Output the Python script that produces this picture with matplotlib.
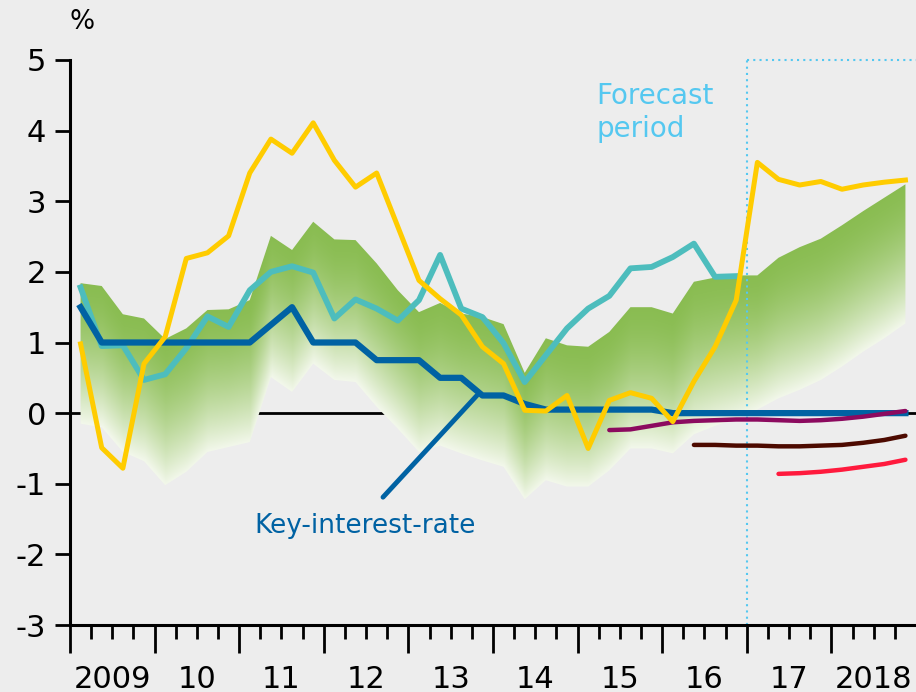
import numpy as np
import matplotlib
matplotlib.use("Agg")
import matplotlib.pyplot as plt
from matplotlib.patches import Polygon
from matplotlib.transforms import blended_transform_factory

plt.rcParams['font.family'] = ['DejaVu Sans']
plt.rcParams['axes.unicode_minus'] = False

# quarterly data, 2009 Q1 .. 2018 Q4 (40 quarters)
n_q = 40
years = list(range(2009, 2019))
year_labels = ['2009', '10', '11', '12', '13', '14', '15', '16', '17', '2018']

yellow = [0.98, -0.49, -0.78, 0.70, 1.08, 2.19, 2.27, 2.51, 3.40, 3.88,
          3.68, 4.11, 3.58, 3.20, 3.40, 2.64, 1.88, 1.62, 1.39, 0.94,
          0.70, 0.04, 0.03, 0.25, -0.50, 0.18, 0.29, 0.21, -0.12, 0.45,
          0.94, 1.60, 3.55, 3.31, 3.23, 3.28, 3.17, 3.23, 3.27, 3.30]

teal = [1.78, 0.95, 0.96, 0.47, 0.55, 0.92, 1.37, 1.22, 1.74, 2.00,
        2.08, 1.99, 1.34, 1.61, 1.48, 1.31, 1.60, 2.24, 1.48, 1.36,
        0.99, 0.44, 0.82, 1.20, 1.48, 1.66, 2.05, 2.07, 2.21, 2.40,
        1.93, 1.94]

key_rate = [1.50, 1.00, 1.00, 1.00, 1.00, 1.00, 1.00, 1.00, 1.00, 1.25,
            1.50, 1.00, 1.00, 1.00, 0.75, 0.75, 0.75, 0.50, 0.50, 0.25,
            0.25, 0.13, 0.05, 0.05, 0.05, 0.05, 0.05, 0.05, 0.00, 0.00,
            0.00, 0.00, 0.00, 0.00, 0.00, 0.00, 0.00, 0.00, 0.00, 0.00]

band_upper = [1.84, 1.80, 1.40, 1.34, 1.05, 1.20, 1.46, 1.47, 1.60, 2.51,
              2.31, 2.71, 2.46, 2.45, 2.12, 1.74, 1.43, 1.56, 1.41, 1.36,
              1.26, 0.57, 1.06, 0.96, 0.94, 1.15, 1.50, 1.50, 1.41, 1.86,
              1.92, 1.95, 1.95, 2.20, 2.35, 2.47, 2.66, 2.86, 3.05, 3.24]

band_lower = [-0.15, -0.20, -0.55, -0.68, -1.02, -0.83, -0.55, -0.48, -0.41, 0.51,
              0.30, 0.70, 0.47, 0.44, 0.09, -0.22, -0.55, -0.46, -0.57, -0.67,
              -0.76, -1.22, -0.95, -1.04, -1.04, -0.81, -0.50, -0.50, -0.57, -0.30,
              -0.18, -0.08, 0.05, 0.21, 0.33, 0.47, 0.66, 0.87, 1.06, 1.27]

# forward curves (start quarter index, values)
purple_start = 25
purple = [-0.24, -0.23, -0.18, -0.13, -0.11, -0.10, -0.09, -0.09, -0.10, -0.11,
          -0.10, -0.08, -0.05, -0.01, 0.03]
brown_start = 29
brown = [-0.45, -0.45, -0.46, -0.46, -0.47, -0.47, -0.46, -0.45, -0.42, -0.38, -0.32]
red_start = 33
red = [-0.86, -0.85, -0.83, -0.80, -0.76, -0.72, -0.66]

forecast_start = 2017.0

x = 2009 + 0.125 + 0.25 * np.arange(n_q)

fig = plt.figure(figsize=(9.16, 6.92), dpi=100)
bg = '#ededed'
fig.patch.set_facecolor(bg)
ax = fig.add_axes([0.0764, 0.0968, 0.9236, 0.8165])
ax.set_facecolor(bg)
ax.set_xlim(2009, 2019)
ax.set_ylim(-3, 5)

# zero line (below the band)
ax.axhline(0, color='black', lw=2, zorder=1)

# gradient band
up = np.array(band_upper)
lo = np.array(band_lower)
gx = np.linspace(2009, 2019, 500)
gy = np.linspace(-1.5, 3.5, 400)
U = np.interp(gx, x, up)
L = np.interp(gx, x, lo)
GX, GY = np.meshgrid(gx, gy)
t = np.clip((U[None, :] - GY) / (U - L)[None, :], 0, 1) ** 1.6
top_c = np.array([0.54, 0.74, 0.32])
bot_c = np.array([0.95, 0.97, 0.92])
img = top_c[None, None, :] * (1 - t[..., None]) + bot_c[None, None, :] * t[..., None]
verts = list(zip(x, up)) + list(zip(x[::-1], lo[::-1]))
poly = Polygon(verts, closed=True, facecolor='none', edgecolor='none')
ax.add_patch(poly)
im = ax.imshow(img, extent=[2009, 2019, -1.5, 3.5], origin='lower', aspect='auto',
               interpolation='bilinear', zorder=2)
im.set_clip_path(poly)

# forecast box
fc = '#55c8f0'
ax.plot([forecast_start, forecast_start], [-3, 5], color=fc, lw=1.5, ls=(0, (1, 2)), zorder=3)
ax.plot([forecast_start, 2019], [5, 5], color=fc, lw=1.5, ls=(0, (1, 2)), zorder=3, clip_on=False)

# lines
ax.plot(x[:len(teal)], teal, color='#4dbdbd', lw=4.2, zorder=4)
ax.plot(x, key_rate, color='#0062a3', lw=4.5, zorder=5)
ax.plot(x[purple_start:purple_start + len(purple)], purple, color='#8c0a5f', lw=3.2,
        solid_capstyle='round', zorder=5)
ax.plot(x[brown_start:brown_start + len(brown)], brown, color='#4d0a00', lw=3.2,
        solid_capstyle='round', zorder=5)
ax.plot(x[red_start:red_start + len(red)], red, color='#ff1a3d', lw=3.2,
        solid_capstyle='round', zorder=5)
ax.plot(x, yellow, color='#ffcc00', lw=3.6, zorder=6)

# labels
ax.plot([2012.70, 2013.81], [-1.19, 0.25], color='#0062a3', lw=3.5,
        solid_capstyle='round', zorder=5)
ax.text(2012.49, -1.6, 'Key-interest-rate', color='#0062a3', fontsize=19,
        ha='center', va='center')
ax.text(2015.22, 4.26, 'Forecast\nperiod', color=fc, fontsize=20, ha='left',
        va='center', linespacing=1.25)
ax.text(0.014, 1.067, '%', transform=ax.transAxes, fontsize=19, ha='center', va='center')

# axes styling
for s in ['top', 'right']:
    ax.spines[s].set_visible(False)
for s in ['left', 'bottom']:
    ax.spines[s].set_linewidth(2.2)
    ax.spines[s].set_zorder(7)

ax.set_yticks(range(-3, 6))
ax.set_yticklabels([str(v) for v in range(-3, 6)])
ax.tick_params(axis='y', length=11, width=2, labelsize=22, pad=6)

ax.set_xticks(years)
ax.set_xticklabels([])
ax.set_xticks([yy + q * 0.25 for yy in years for q in (1, 2, 3)], minor=True)
ax.tick_params(axis='x', which='major', length=20, width=2, direction='out')
ax.tick_params(axis='x', which='minor', length=10, width=2, direction='out')
trans = blended_transform_factory(ax.transData, ax.transAxes)
for yy, lab in zip(years, year_labels):
    ax.text(yy + 0.5, -0.096, lab, transform=trans, fontsize=22, ha='center', va='center')

fig.savefig('out.png', dpi=100, facecolor=bg)
